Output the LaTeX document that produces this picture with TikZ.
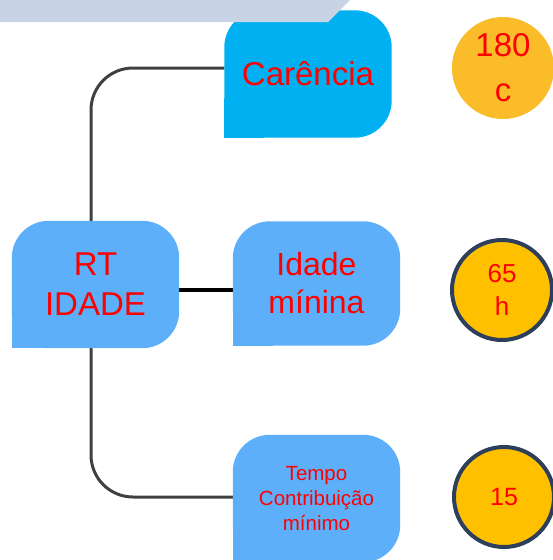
\documentclass[tikz,border=0pt]{standalone}
\usepackage{fontspec}
\setmainfont{Liberation Sans}
\pgfdeclarelayer{background}
\pgfdeclarelayer{boxes}
\pgfsetlayers{background,boxes,main}
\definecolor{bandgray}{HTML}{C8D4E6}
\definecolor{cyanbox}{HTML}{00B0F0}
\definecolor{lightbox}{HTML}{5EAFFA}
\definecolor{goldball}{HTML}{FBBC2A}
\definecolor{ambball}{HTML}{FFC000}
\definecolor{navyring}{HTML}{2E3F5C}
\definecolor{linkgray}{HTML}{404040}
\tikzset{
	box/.style={minimum width=167pt, minimum height=127pt, inner sep=0pt, text=red, align=center},
	ball/.style={circle, minimum size=100pt, inner sep=0pt, text=red, align=center},
	ring/.style={ball, draw=navyring, line width=4pt, fill=ambball},
	link/.style={line width=3pt, draw=linkgray, rounded corners=42pt},
}
% three round corners, bottom left square
\newcommand{\LEAF}[2]{
	\fill[#2, rounded corners=37pt] (#1.south west) rectangle (#1.north east);
	\fill[#2] (#1.south west) rectangle ([shift={(40pt,40pt)}]#1.south west);
}
\begin{document}
\begin{tikzpicture}[x=1pt, y=-1pt]
	\useasboundingbox (0,0) rectangle (552,560);
	\fill[bandgray] (0,0) -- (350,0) -- (328,22) -- (0,22) -- cycle;

	\node[box, font=\fontsize{33}{40}\selectfont](RT) at (95.5,284.5){RT\\IDADE};
	\node[box, font=\fontsize{33}{40}\selectfont](CAR) at (308,74){Carência};
	\node[box, minimum height=124pt, font=\fontsize{32}{38}\selectfont](IDA) at (316.5,283.5){Idade\\mínina};
	\node[box, font=\fontsize{20.5}{25}\selectfont](TEMPO) at (316.5,498.5){Tempo\\Contribuição\\mínimo};

	\node[ball, minimum size=102pt, fill=goldball, font=\fontsize{33}{45}\selectfont](C180) at (503,68){180\\c};
	\node[ring, font=\fontsize{26}{33}\selectfont](C65) at (502,290){65\\h};
	\node[ring, font=\fontsize{25}{30}\selectfont](C15) at (504,497){15};

	\begin{pgfonlayer}{boxes}
		\LEAF{RT}{lightbox}
		\LEAF{CAR}{cyanbox}
		\LEAF{IDA}{lightbox}
		\LEAF{TEMPO}{lightbox}
	\end{pgfonlayer}

	\begin{pgfonlayer}{background}
		\draw[link] ([xshift=-4.5pt]RT.north) |- ([yshift=6pt]CAR.west);
		\draw[link] ([xshift=-4.5pt]RT.south) |- ([yshift=1.5pt]TEMPO.west);
		\draw[line width=4pt] ([yshift=-5.5pt]RT.east) -- ([yshift=-5.5pt]RT.east -| IDA.west);
	\end{pgfonlayer}
\end{tikzpicture}
\end{document}
